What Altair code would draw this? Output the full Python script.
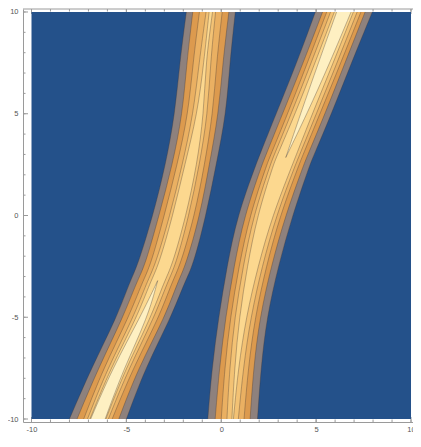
import altair as alt
import pandas as pd

# ---- data -----------------------------------------------------------------
# left stripe: sample heights, centre line and half-widths of each contour level
Y_LEFT = [-10, -7.5, -5, -3.2, -2.5, 0, 2.5, 5, 7.5, 10]
CENTER_LEFT = [-6.5, -5.43, -4.07, -3.35, -2.96, -2.2, -1.6, -1.09, -0.87, -0.55]
HW_LEFT_1 = [1.5, 1.42, 1.43, 1.45, 1.46, 1.4, 1.33, 1.35, 1.32, 1.29]
HW_LEFT_2 = [1.1, 1.05, 1.1, 1.08, 1.07, 1.08, 0.97, 0.95, 0.95, 0.95]
HW_LEFT_3 = [0.75, 0.78, 0.8, 0.78, 0.78, 0.8, 0.72, 0.65, 0.62, 0.6]
HW_LEFT_4 = [0.55, 0.56, 0.55, 0.54, 0.54, 0.5, 0.45, 0.38, 0.3, 0.25]
HW_LEFT_5 = [0.42, 0.4, 0.37, 0.36, 0.36, 0.35, 0.32, 0.17, 0.05, 0.09]
HW_LEFT_6 = [0.38, 0.3, 0.2, 0.0, None, None, None, None, None, None]

# middle stripe
Y_MID = [-10, -7.5, -5, -2.5, 0, 2.5, 2.85, 5, 7.5, 10]
CENTER_MID = [0.6, 0.8, 1.13, 1.65, 2.3, 3.25, 3.4, 4.35, 5.42, 6.46]
HW_MID_1 = [1.31, 1.29, 1.27, 1.35, 1.45, 1.42, 1.43, 1.46, 1.44, 1.5]
HW_MID_2 = [0.92, 0.9, 0.9, 0.98, 1.08, 1.1, 1.1, 1.12, 1.1, 1.12]
HW_MID_3 = [0.6, 0.62, 0.65, 0.72, 0.8, 0.85, 0.85, 0.85, 0.88, 0.9]
HW_MID_4 = [0.3, 0.36, 0.42, 0.5, 0.6, 0.66, 0.67, 0.66, 0.68, 0.7]
HW_MID_5 = [0.04, 0.1, 0.18, 0.28, 0.4, 0.5, 0.5, 0.45, 0.48, 0.5]
HW_MID_6 = [None, None, None, None, None, None, 0.0, 0.17, 0.3, 0.38]

PLOT_RANGE = [-10, 10]
TICKS = list(range(-10, 11))
MAJOR_TICKS = [-10, -5, 0, 5, 10]

# ---- styles ------------------------------------------------------------------
BG = "#24518a"
LEVEL_COLORS = ["#8e817d", "#dc9a4e", "#eab062", "#f3c274", "#fcd88f", "#fef0c2"]
FRAME = "#9a9a9a"
LINE = "#3a3030"
W, H = 390, 413

left_levels = [HW_LEFT_1, HW_LEFT_2, HW_LEFT_3, HW_LEFT_4, HW_LEFT_5, HW_LEFT_6]
mid_levels = [HW_MID_1, HW_MID_2, HW_MID_3, HW_MID_4, HW_MID_5, HW_MID_6]

rows = []
for stripe, ys, cs, levels in [("a", Y_LEFT, CENTER_LEFT, left_levels),
                               ("b", Y_MID, CENTER_MID, mid_levels)]:
    for k, hw in enumerate(levels):
        for y, c, h in zip(ys, cs, hw):
            if h is None:
                continue
            rows.append(dict(stripe=stripe, level=k, y=y, xl=c - h, xr=c + h))
bands = pd.DataFrame(rows).sort_values(["stripe", "level", "y"])
edges = pd.concat([bands.assign(side="L", x=bands.xl),
                   bands.assign(side="R", x=bands.xr)], ignore_index=True)
edges["key"] = edges.stripe + edges.level.astype(str) + edges.side

xs = alt.Scale(domain=[-10.448, 10.105], nice=False, zero=False)
ysc = alt.Scale(domain=[-10.147, 10.147], nice=False, zero=False)

label_style = dict(labelFontSize=7.5, labelColor="#555555", labelFont="Liberation Sans",
                   labelExpr="'' + datum.value", labelOverlap=False, labelFlush=False)
XAX = alt.Axis(values=MAJOR_TICKS, title=None, grid=False, ticks=False, tickSize=0,
               labelPadding=3, domainColor=FRAME, **label_style)
YAX = alt.Axis(values=MAJOR_TICKS, title=None, grid=False, ticks=False, tickSize=0,
               labelPadding=5, domainColor=FRAME, **label_style)


def X(f):
    return alt.X(f, type="quantitative", scale=xs, axis=XAX)


def Y(f):
    return alt.Y(f, type="quantitative", scale=ysc, axis=YAX)


tick_df = pd.DataFrame({"t": TICKS})
major_df = pd.DataFrame({"t": MAJOR_TICKS})

layers = []
for df_, ln in [(tick_df, 2.5), (major_df, 5)]:
    layers.append(alt.Chart(df_).mark_rule(color=FRAME).encode(
        x=X("t"), y=alt.value(H), y2=alt.value(H - ln)))
    layers.append(alt.Chart(df_).mark_rule(color=FRAME).encode(
        x=X("t"), y=alt.value(0), y2=alt.value(ln)))
    layers.append(alt.Chart(df_).mark_rule(color=FRAME).encode(
        y=Y("t"), x=alt.value(0), x2=alt.value(ln)))

rect_df = pd.DataFrame({"x0": [PLOT_RANGE[0]], "x1": [PLOT_RANGE[1]],
                        "y0": [PLOT_RANGE[0]], "y1": [PLOT_RANGE[1]]})
layers.append(alt.Chart(rect_df).mark_rect(color=BG).encode(
    x=X("x0"), x2="x1", y=Y("y0"), y2="y1"))

for k, col in enumerate(LEVEL_COLORS):
    sub = bands[bands.level == k]
    layers.append(alt.Chart(sub).mark_area(orient="horizontal", color=col,
                                           interpolate="basis", opacity=1).encode(
        y=Y("y"), x=X("xl"), x2="xr", detail="stripe:N"))

layers.append(alt.Chart(edges).mark_line(color=LINE, strokeWidth=0.6, opacity=0.55,
                                         interpolate="basis").encode(
    x=X("x"), y=Y("y"), order="y:Q", detail="key:N"))

layers.append(alt.Chart(rect_df).mark_rule(color=FRAME).encode(
    x=alt.value(0), x2=alt.value(W), y=alt.value(0)))

chart = alt.layer(*layers).properties(
    width=W, height=H, autosize="none", background="white",
    padding={"left": 15, "top": 1, "right": 0, "bottom": 11},
).configure_view(stroke=None)

chart.save("out.html", embed_options={"renderer": "svg", "actions": False})
